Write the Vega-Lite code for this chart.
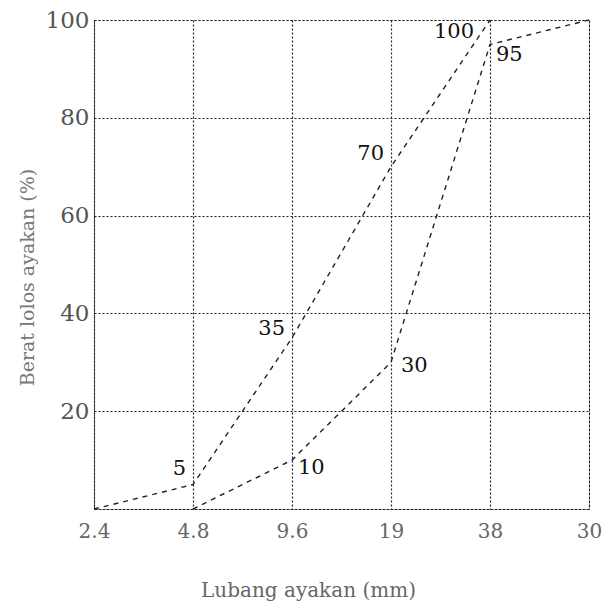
{
  "$schema": "https://vega.github.io/schema/vega-lite/v6.json",
  "width": 495,
  "height": 489,
  "autosize": {"type": "none"},
  "padding": {"left": 94, "top": 20, "right": 19, "bottom": 94},
  "background": "white",
  "config": {
    "view": {"stroke": "#222", "strokeDash": [2, 2], "strokeWidth": 1},
    "font": "DejaVu Serif",
    "text": {"font": "DejaVu Serif", "fontSize": 21, "color": "#111", "baseline": "middle"}
  },
  "data": {
    "values": [
      {"sieve": "2.4", "pct": 0, "curve": "upper", "lbl": ""},
      {"sieve": "4.8", "pct": 5, "curve": "upper", "lbl": "5"},
      {"sieve": "9.6", "pct": 35, "curve": "upper", "lbl": "35"},
      {"sieve": "19", "pct": 70, "curve": "upper", "lbl": "70"},
      {"sieve": "38", "pct": 100, "curve": "upper", "lbl": "100"},
      {"sieve": "4.8", "pct": 0, "curve": "lower", "lbl": ""},
      {"sieve": "9.6", "pct": 10, "curve": "lower", "lbl": "10"},
      {"sieve": "19", "pct": 30, "curve": "lower", "lbl": "30"},
      {"sieve": "38", "pct": 95, "curve": "lower", "lbl": "95"},
      {"sieve": "30", "pct": 100, "curve": "lower", "lbl": ""}
    ]
  },
  "encoding": {
    "x": {
      "field": "sieve",
      "type": "ordinal",
      "scale": {"type": "point", "padding": 0, "domain": ["2.4", "4.8", "9.6", "19", "38", "30"]},
      "axis": {
        "title": "Lubang ayakan (mm)",
        "titleFont": "DejaVu Serif",
        "titleFontSize": 20,
        "titleFontWeight": "normal",
        "titleColor": "#666",
        "titleX": 214,
        "titleY": 81,
        "titleAlign": "center",
        "titleBaseline": "middle",
        "labelAngle": 0,
        "labelFont": "DejaVu Serif",
        "labelFontSize": 20,
        "labelColor": "#666",
        "labelPadding": 12,
        "ticks": false,
        "domain": false,
        "grid": true,
        "gridColor": "#222",
        "gridDash": [2, 2],
        "gridWidth": 1.2
      }
    },
    "y": {
      "field": "pct",
      "type": "quantitative",
      "scale": {"domain": [0, 100], "nice": false},
      "axis": {
        "title": "Berat lolos ayakan (%)",
        "titleFont": "DejaVu Serif",
        "titleFontSize": 19,
        "titleFontWeight": "normal",
        "titleColor": "#777",
        "titleAngle": -90,
        "titleX": -67,
        "titleY": 257,
        "titleAlign": "center",
        "titleBaseline": "middle",
        "values": [0, 20, 40, 60, 80, 100],
        "labelExpr": "datum.value == 0 ? '' : datum.label",
        "labelFont": "DejaVu Serif",
        "labelFontSize": 23,
        "labelColor": "#555",
        "labelPadding": 5,
        "ticks": false,
        "domain": false,
        "grid": true,
        "gridColor": "#222",
        "gridDash": [2, 2],
        "gridWidth": 1.2
      }
    }
  },
  "layer": [
    {
      "mark": {"type": "line", "interpolate": "linear", "strokeDash": [5, 5], "strokeWidth": 1.4, "color": "#222"},
      "encoding": {"detail": {"field": "curve"}}
    },
    {
      "transform": [{"filter": "datum.lbl == '5'"}],
      "mark": {"type": "text", "align": "right", "dx": -7, "dy": -16},
      "encoding": {"text": {"field": "lbl"}}
    },
    {
      "transform": [{"filter": "datum.lbl == '35'"}],
      "mark": {"type": "text", "align": "right", "dx": -7, "dy": -9},
      "encoding": {"text": {"field": "lbl"}}
    },
    {
      "transform": [{"filter": "datum.lbl == '70'"}],
      "mark": {"type": "text", "align": "right", "dx": -7, "dy": -13},
      "encoding": {"text": {"field": "lbl"}}
    },
    {
      "transform": [{"filter": "datum.lbl == '100'"}],
      "mark": {"type": "text", "align": "right", "dx": -16, "dy": 12},
      "encoding": {"text": {"field": "lbl"}}
    },
    {
      "transform": [{"filter": "datum.lbl == '10'"}],
      "mark": {"type": "text", "align": "left", "dx": 6, "dy": 8},
      "encoding": {"text": {"field": "lbl"}}
    },
    {
      "transform": [{"filter": "datum.lbl == '30'"}],
      "mark": {"type": "text", "align": "left", "dx": 10, "dy": 4},
      "encoding": {"text": {"field": "lbl"}}
    },
    {
      "transform": [{"filter": "datum.lbl == '95'"}],
      "mark": {"type": "text", "align": "left", "dx": 6, "dy": 11},
      "encoding": {"text": {"field": "lbl"}}
    }
  ]
}
